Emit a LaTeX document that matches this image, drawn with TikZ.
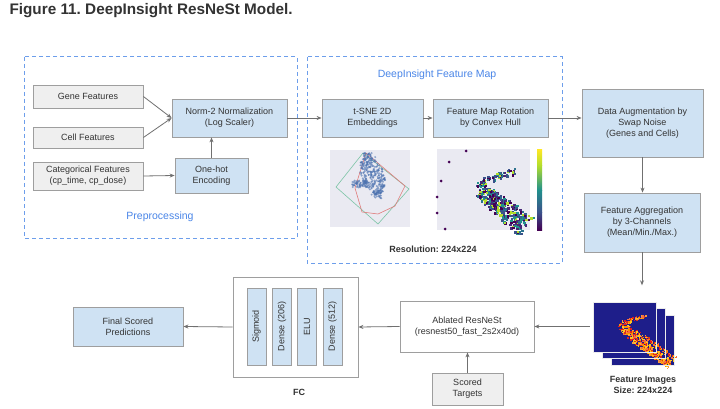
\documentclass[tikz,border=0pt]{standalone}
\usepackage{fontspec}
\setmainfont{Liberation Sans}
\usetikzlibrary{arrows.meta}
\frenchspacing
\definecolor{boxblue}{HTML}{CFE2F3}
\definecolor{boxgray}{HTML}{EFEFEF}
\definecolor{edgegray}{HTML}{9E9E9E}
\definecolor{dashblue}{HTML}{6D9EEB}
\definecolor{labelblue}{HTML}{4A86E8}
\definecolor{textdark}{HTML}{333333}
\definecolor{arrowgray}{HTML}{707070}
\definecolor{plotbg}{HTML}{EAEAF2}
\definecolor{tsneblue}{HTML}{4C72B0}
\definecolor{hullgreen}{HTML}{7CC4A6}
\definecolor{hullred}{HTML}{E07A7A}
\definecolor{navyimg}{HTML}{1E1E8A}
\definecolor{vir0}{HTML}{440154}
\definecolor{vir1}{HTML}{3B528B}
\definecolor{vir2}{HTML}{482878}
\definecolor{vir3}{HTML}{21918C}
\definecolor{vir4}{HTML}{2C728E}
\definecolor{vir5}{HTML}{B5DE2B}
\definecolor{viryel}{HTML}{FDE725}
\definecolor{hot0}{HTML}{D7301F}
\definecolor{hot1}{HTML}{F46D43}
\definecolor{hot2}{HTML}{F99A3C}
\definecolor{hot3}{HTML}{E31A1C}
\definecolor{hot4}{HTML}{FFC81F}
\definecolor{hot5}{HTML}{FF8C00}
\newcommand{\bandpts}[1]{%
  \foreach \i in {1,...,70}{%
    \pgfmathsetmacro\t{rnd}%
    \pgfmathtruncatemacro\c{min(5,6*rnd)}%
    \fill[#1\c] ({76-38*\t+2*rand},{21+14*\t+3.5*rand}) rectangle ++(2.4,2.4);
  }%
  \foreach \i in {1,...,320}{%
    \pgfmathsetmacro\t{rnd}%
    \pgfmathsetmacro\s{12*rand*(0.55+0.45*\t)}%
    \pgfmathtruncatemacro\c{min(5,6*rnd)}%
    \fill[#1\c] ({42+46*\t-0.6*\s+2*rand},{40+36*\t+0.8*\s}) rectangle ++(2.4,2.4);
  }}
\begin{document}
\begin{tikzpicture}[
    x=1pt,
    y=-1pt,
    box/.style={
        draw=edgegray,
        fill=boxblue,
        line width=0.8pt,
        align=center,
        text=textdark,
        font=\fontsize{9}{11}\selectfont
    },
    inbox/.style={box, fill=boxgray},
    plainbox/.style={box, fill=white},
    strip/.style={box, rotate=90, minimum width=77pt, minimum height=19pt, inner sep=0pt},
    group/.style={draw=dashblue, line width=1pt, dash pattern=on 4pt off 3pt},
    grouplabel/.style={text=labelblue, font=\fontsize{10.5}{12}\selectfont},
    caption/.style={text=textdark, font=\bfseries\fontsize{9}{11}\selectfont, align=center},
    arrow/.style={-{Stealth[length=5pt,width=4pt]}, draw=arrowgray, line width=0.8pt}
]
    \useasboundingbox[fill=white] (0,0) rectangle (720,409);
    \node[anchor=west, text=textdark, font=\bfseries\fontsize{15.3}{18}\selectfont] (title) at (6,11) {Figure 11. DeepInsight ResNeSt Model.};

    \draw[group] (24,57) rectangle (297,238);
    \draw[group] (307,57) rectangle (562,263);
    \node[grouplabel] (prep) at (160,217) {Preprocessing};
    \node[grouplabel] (fmap) at (437,75) {DeepInsight Feature Map};

    \node[inbox, minimum width=110pt, minimum height=23pt] (gene) at (88,96.5) {Gene Features};
    \node[inbox, minimum width=110pt, minimum height=21pt] (cell) at (88,137.5) {Cell Features};
    \node[inbox, minimum width=110pt, minimum height=28pt] (cat) at (88,176) {Categorical Features\\(cp\_time, cp\_dose)};
    \node[box, minimum width=115pt, minimum height=38pt] (norm) at (229.5,118) {Norm-2 Normalization\\(Log Scaler)};
    \node[box, minimum width=73pt, minimum height=35pt] (onehot) at (211.5,175.5) {One-hot\\Encoding};

    \node[box, minimum width=101pt, minimum height=38pt] (tsne) at (372.5,118) {t-SNE 2D\\Embeddings};
    \node[box, minimum width=115pt, minimum height=38pt] (rot) at (490.5,118) {Feature Map Rotation\\by Convex Hull};
    \node[caption] (res) at (433,249) {Resolution: 224x224};

    \fill[plotbg] (330,150) rectangle (410,227);
    \draw[hullgreen, line width=0.6pt] (363,153) -- (409,189) -- (378,224) -- (336,187) -- cycle;
    \draw[hullred, line width=0.6pt] (366,153) -- (355,188) -- (362,212) -- (378,214) -- (395,206) -- (405,186) -- cycle;
    \pgfmathsetseed{5}
    \foreach \i in {1,...,320}{
        \pgfmathsetmacro\t{rnd}
        \pgfmathsetmacro\w{3+9*sin(180*\t)}
        \fill[tsneblue, opacity=0.6] ({367+11*\t+\w*rand},{154+42*\t+3*rand}) circle (1.1);
    }
    \foreach \i in {1,...,60}{
        \fill[tsneblue, opacity=0.6] ({352+16*rnd},{184+3.5*rand}) circle (1.1);
    }

    \fill[plotbg] (437,149) rectangle (530,230);
    \foreach \px/\py in {466/151, 449/162, 441/181, 437/197, 437/213, 445/229}{
        \fill[vir0] (\px,\py) circle (1.5);
    }
    \pgfmathsetseed{9}
    \begin{scope}[shift={(437,149)}]
        \bandpts{vir}
    \end{scope}
    \shade[top color=viryel, bottom color=vir5] (537,150) rectangle (542,165);
    \shade[top color=vir5, bottom color=vir3] (537,165) rectangle (542,190);
    \shade[top color=vir3, bottom color=vir1] (537,190) rectangle (542,212);
    \shade[top color=vir1, bottom color=vir0] (537,212) rectangle (542,230);

    \node[box, minimum width=121pt, minimum height=68pt] (aug) at (642.5,123) {Data Augmentation by\\Swap Noise\\(Genes and Cells)};
    \node[box, minimum width=116pt, minimum height=59pt] (agg) at (642,222.5) {Feature Aggregation\\by 3-Channels\\(Mean/Min./Max.)};

    \foreach \dx/\dy in {18/13, 9/6.5, 0/0}{
        \begin{scope}[shift={(593+\dx,302+\dy)}]
            \fill[navyimg] (0,0) rectangle (63,50);
            \pgfmathsetseed{21}
            \begin{scope}[xscale=0.68, yscale=0.62]
                \bandpts{hot}
            \end{scope}
            \draw[white!85!gray, line width=0.8pt] (0,0) rectangle (63,50);
        \end{scope}
    }
    \node[minimum width=90pt, minimum height=82pt] (imgs) at (635,326.5) {};
    \node[caption] (imglabel) at (643,385) {Feature Images\\Size: 224x224};

    \node[plainbox, minimum width=134pt, minimum height=51pt] (abl) at (467,326.5) {Ablated ResNeSt\\(resnest50\_fast\_2s2x40d)};
    \node[inbox, minimum width=71pt, minimum height=32pt] (scored) at (467.5,389) {Scored\\Targets};

    \node[plainbox, minimum width=125pt, minimum height=100pt] (fc) at (295.5,327) {};
    \node[strip] (sig) at (256.5,326.5) {Sigmoid};
    \node[strip] (d206) at (282,326.5) {Dense (206)};
    \node[strip] (elu) at (307,326.5) {ELU};
    \node[strip] (d512) at (332.5,326.5) {Dense (512)};
    \node[caption] (fclabel) at (299,392) {FC};
    \node[box, minimum width=110pt, minimum height=39pt] (final) at (128,326.5) {Final Scored\\Predictions};

    \draw[arrow] (gene.east) -- (norm.west);
    \draw[arrow] (cell.east) -- (norm.west);
    \draw[arrow] (cat.east) -- (onehot.west);
    \draw[arrow] (onehot.north) -- (onehot.north |- norm.south);
    \draw[arrow] (norm) -- (tsne);
    \draw[arrow] (tsne) -- (rot);
    \draw[arrow] (rot.east) -- (rot.east -| aug.west);
    \draw[arrow] (aug.south) -- (aug.south |- agg.north);
    \draw[arrow] (agg.south) -- (agg.south |- imgs.north);
    \draw[arrow] (imgs.west) -- (abl.east);
    \draw[arrow] (scored.north) -- (scored.north |- abl.south);
    \draw[arrow] (abl.west) -- (fc.east);
    \draw[arrow] (fc.west) -- (final.east);
\end{tikzpicture}
\end{document}
